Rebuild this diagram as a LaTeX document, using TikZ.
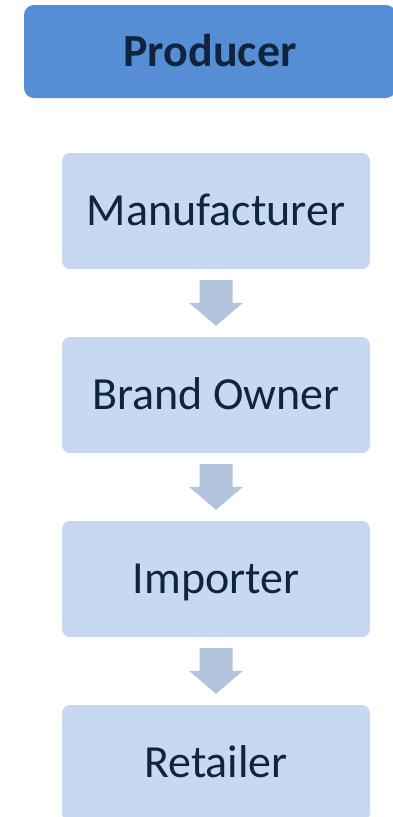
\documentclass[tikz,border=0pt]{standalone}
\usepackage{fontspec}
\setmainfont{Carlito}
\definecolor{headfill}{HTML}{558ED5}
\definecolor{stagefill}{HTML}{C6D9F1}
\definecolor{arrowfill}{HTML}{B3C4DF}
\definecolor{textnavy}{HTML}{10243E}
\begin{document}
\begin{tikzpicture}[x=1pt,y=-1pt,
  headbox/.style={rectangle, rounded corners=10pt, fill=headfill, inner sep=0pt,
    minimum width=372pt, minimum height=93pt, text=textnavy,
    font=\fontsize{46}{50}\selectfont\bfseries, text height=30pt, text depth=0pt},
  stagebox/.style={rectangle, rounded corners=8pt, fill=stagefill, inner sep=0pt,
    minimum width=308pt, minimum height=116pt, text=textnavy,
    font=\fontsize{46}{50}\selectfont, text height=29.6pt, text depth=0pt},
  flow/.style={fill=arrowfill}
]
\useasboundingbox (0,0) rectangle (393,817);
\begin{scope}
  \clip (0,0) rectangle (393,817);
  \node[headbox]  (producer) at (210,51.5) {Producer};
  \node[stagebox] (man)   at (216,211) {Manufacturer};
  \node[stagebox] (brand) at (216,395) {Brand Owner};
  \node[stagebox] (imp)   at (216,579) {Importer};
  \node[stagebox] (ret)   at (216,763) {Retailer};
  % block arrows between consecutive stages
  \foreach \a/\b in {man/brand, brand/imp, imp/ret}{
    \fill[flow] ([xshift=-16.5pt,yshift=-11pt]\a.south)
      -- ([xshift=16.5pt,yshift=-11pt]\a.south)
      -- ([xshift=16.5pt,yshift=34pt]\b.north)
      -- ([xshift=27pt,yshift=34pt]\b.north)
      -- ([yshift=11pt]\b.north)
      -- ([xshift=-27pt,yshift=34pt]\b.north)
      -- ([xshift=-16.5pt,yshift=34pt]\b.north)
      -- cycle;
  }
\end{scope}
\end{tikzpicture}
\end{document}
